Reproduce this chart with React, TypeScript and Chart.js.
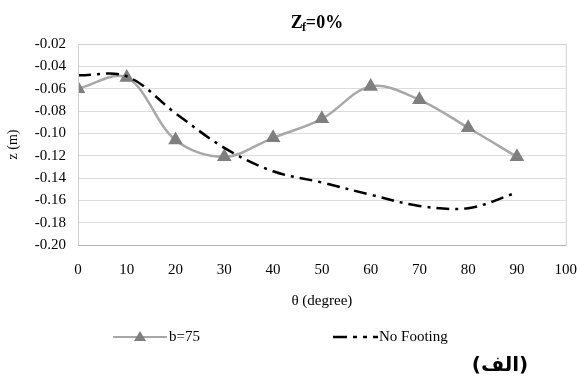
import React, { useEffect, useRef } from 'react';
import { Chart, registerables } from 'chart.js';

Chart.register(...registerables);

const thetaDeg = [0, 10, 20, 30, 40, 50, 60, 70, 80, 90];
const b75 = [-0.060, -0.050, -0.106, -0.121, -0.104, -0.087, -0.058, -0.070, -0.095, -0.121];
const noFooting = [-0.048, -0.049, -0.082, -0.113, -0.134, -0.144, -0.155, -0.165, -0.167, -0.153];
const yTickValues = [-0.20, -0.18, -0.16, -0.14, -0.12, -0.10, -0.08, -0.06, -0.04, -0.02];
const xTickValues = [0, 10, 20, 30, 40, 50, 60, 70, 80, 90, 100];
const seriesLabels = ['b=75', 'No Footing'];
const titleMain = 'Z';
const titleSub = 'f';
const titleRest = '=0%';
const panelLabel = '(الف)';

const SERIF = "'Liberation Serif', 'Times New Roman', serif";

const decorPlugin = {
  id: 'decor',
  afterDraw(chart: any) {
    const { ctx, chartArea } = chart;
    ctx.save();
    // plot border
    ctx.strokeStyle = '#d0d0d0';
    ctx.lineWidth = 1;
    ctx.strokeRect(chartArea.left + 0.5, chartArea.top + 0.5, chartArea.right - chartArea.left, chartArea.bottom - chartArea.top);
    ctx.strokeStyle = '#b5b5b5';
    ctx.beginPath();
    ctx.moveTo(chartArea.left, chartArea.bottom + 0.5);
    ctx.lineTo(chartArea.right, chartArea.bottom + 0.5);
    ctx.stroke();

    // title with subscript
    ctx.fillStyle = '#000';
    ctx.textBaseline = 'alphabetic';
    ctx.textAlign = 'left';
    const bigFont = `bold 18px ${SERIF}`;
    const subFont = `bold 12px ${SERIF}`;
    ctx.font = bigFont;
    const wZ = ctx.measureText(titleMain).width;
    const wR = ctx.measureText(titleRest).width;
    ctx.font = subFont;
    const wS = ctx.measureText(titleSub).width;
    const total = wZ + wS + wR - 1;
    const cx = 317;
    let x = cx - total / 2;
    const base = 28;
    ctx.font = bigFont;
    ctx.fillText(titleMain, x, base);
    x += wZ - 1;
    ctx.font = subFont;
    ctx.fillText(titleSub, x, base + 3);
    x += wS;
    ctx.font = bigFont;
    ctx.fillText(titleRest, x, base);

    // legend
    const ly = 337;
    const ds0 = chart.data.datasets[0];
    const ds1 = chart.data.datasets[1];
    ctx.strokeStyle = ds0.borderColor;
    ctx.lineWidth = 2;
    ctx.beginPath();
    ctx.moveTo(113, ly);
    ctx.lineTo(167, ly);
    ctx.stroke();
    ctx.fillStyle = ds0.pointBackgroundColor;
    ctx.beginPath();
    ctx.moveTo(140, ly - 6);
    ctx.lineTo(146, ly + 4);
    ctx.lineTo(134, ly + 4);
    ctx.closePath();
    ctx.fill();
    ctx.fillStyle = '#000';
    ctx.font = `15px ${SERIF}`;
    ctx.textBaseline = 'middle';
    ctx.fillText(ds0.label, 169, ly);

    ctx.strokeStyle = ds1.borderColor;
    ctx.lineWidth = 2.5;
    ctx.setLineDash([14, 6, 4, 6, 4, 6]);
    ctx.beginPath();
    ctx.moveTo(333, ly);
    ctx.lineTo(378, ly);
    ctx.stroke();
    ctx.setLineDash([]);
    ctx.fillText(ds1.label, 379, ly);

    // panel label
    ctx.font = `bold 20px 'DejaVu Sans', 'Noto Sans', sans-serif`;
    ctx.textAlign = 'center';
    ctx.textBaseline = 'middle';
    ctx.fillText(panelLabel, 500, 366);
    ctx.restore();
  },
};

export default function App() {
  const ref = useRef<HTMLCanvasElement | null>(null);
  useEffect(() => {
    document.body.style.margin = '0';
    const canvas = ref.current;
    if (!canvas) return;
    const chart = new Chart(canvas, {
      type: 'line',
      data: {
        datasets: [
          {
            label: seriesLabels[0],
            data: thetaDeg.map((t, i) => ({ x: t, y: b75[i] })),
            borderColor: '#a8a8a8',
            borderWidth: 2.5,
            pointStyle: 'triangle',
            pointRadius: 6,
            pointBackgroundColor: '#7f7f7f',
            pointBorderColor: '#7f7f7f',
            tension: 0.35,
            order: 2,
          },
          {
            label: seriesLabels[1],
            data: thetaDeg.map((t, i) => ({ x: t, y: noFooting[i] })),
            borderColor: '#000000',
            borderWidth: 2.5,
            borderDash: [13, 6, 3, 6],
            pointRadius: 0,
            tension: 0.35,
            order: 1,
          },
        ],
      },
      options: {
        responsive: false,
        animation: false,
        layout: { padding: { top: 44, right: 11, bottom: 72, left: 0 } },
        plugins: { legend: { display: false }, title: { display: false }, tooltip: { enabled: false } },
        scales: {
          x: {
            type: 'linear',
            min: 0,
            max: 100,
            afterBuildTicks: (s: any) => { s.ticks = xTickValues.map((v) => ({ value: v })); },
            afterFit: (s: any) => { s.height = 65; },
            grid: { display: false, drawTicks: true, tickLength: 16 },
            border: { display: false },
            ticks: { color: '#000', font: { family: SERIF, size: 15 }, padding: 0, maxRotation: 0 },
            title: { display: true, text: 'θ (degree)', color: '#000', font: { family: SERIF, size: 15 }, padding: { top: 0, bottom: 0 } },
          },
          y: {
            type: 'linear',
            min: -0.2,
            max: -0.02,
            afterBuildTicks: (s: any) => { s.ticks = yTickValues.map((v) => ({ value: v })); },
            afterFit: (s: any) => { s.width = 78; },
            grid: { color: '#dcdcdc', lineWidth: 1, drawTicks: false },
            border: { display: false },
            ticks: { color: '#000', font: { family: SERIF, size: 15 }, padding: 12, callback: (v: any) => Number(v).toFixed(2) },
            title: { display: true, text: 'z (m)', color: '#000', font: { family: SERIF, size: 14 }, padding: { top: 5, bottom: 0 } },
          },
        },
      },
      plugins: [decorPlugin],
    });
    return () => chart.destroy();
  }, []);
  return (
    <div style={{ width: 577, height: 382, background: '#fff' }}>
      <canvas ref={ref} width={577} height={382} />
    </div>
  );
}
